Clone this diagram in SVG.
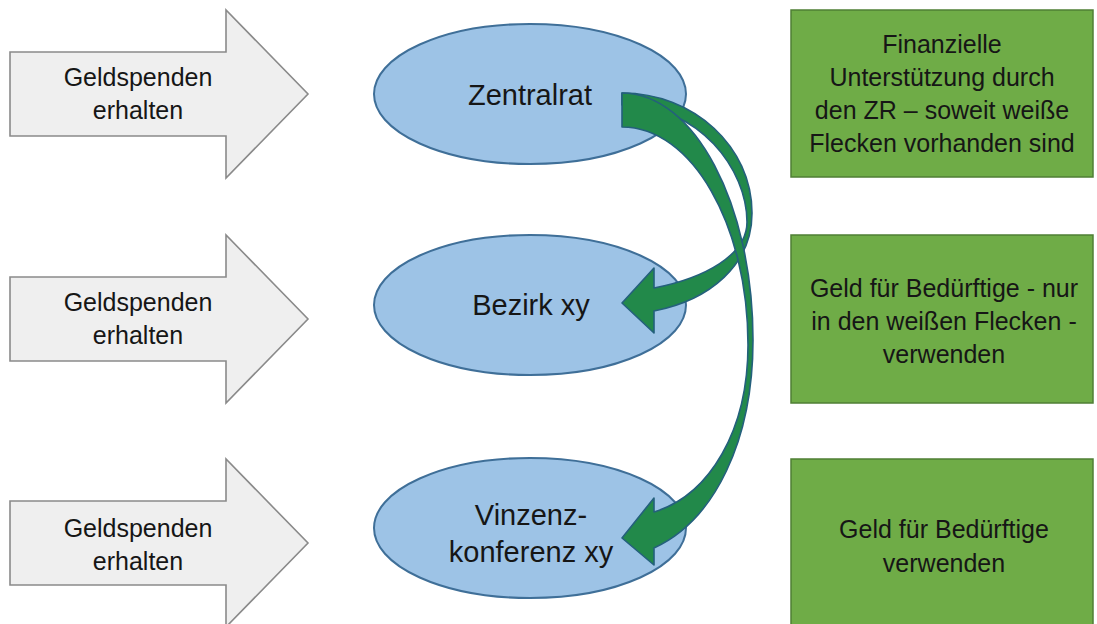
<svg xmlns="http://www.w3.org/2000/svg" width="1097" height="624" viewBox="0 0 1097 624">
<style>
.garrow{fill:#efefef;stroke:#8a8a8a;stroke-width:1.6}
.ell{fill:#9dc3e6;stroke:#3f6f98;stroke-width:2}
.box{fill:#6fac47;stroke:#4f7f34;stroke-width:1.5}
.curve{fill:#22894a;stroke:#24607c;stroke-width:1.6;stroke-linejoin:round}
text{font-family:"Liberation Sans",Arial,sans-serif;fill:#161616;text-anchor:middle}
.t1{font-size:25px}
.t2{font-size:29px}
</style>
<rect width="1097" height="624" fill="#ffffff"/>
<g id="spende1">
<polygon class="garrow" points="10,52 226,52 226,10 308,94 226,178 226,136 10,136"/>
<text class="t1" x="138" y="86">Geldspenden</text>
<text class="t1" x="138" y="119">erhalten</text>
</g>
<g id="spende2">
<polygon class="garrow" points="10,277 226,277 226,235 308,319 226,403 226,361 10,361"/>
<text class="t1" x="138" y="311">Geldspenden</text>
<text class="t1" x="138" y="344">erhalten</text>
</g>
<g id="spende3">
<polygon class="garrow" points="10,501 226,501 226,459 308,543 226,627 226,585 10,585"/>
<text class="t1" x="138" y="537">Geldspenden</text>
<text class="t1" x="138" y="570">erhalten</text>
</g>
<g id="zentralrat">
<ellipse class="ell" cx="530" cy="94" rx="156" ry="70"/>
<text class="t2" x="530" y="105">Zentralrat</text>
</g>
<g id="bezirk">
<ellipse class="ell" cx="530" cy="305" rx="156" ry="70"/>
<text class="t2" x="531" y="315">Bezirk xy</text>
</g>
<g id="vinzenz">
<ellipse class="ell" cx="530" cy="528" rx="156" ry="70"/>
<text class="t2" x="531" y="525">Vinzenz-</text>
<text class="t2" x="531" y="562">konferenz xy</text>
</g>
<g id="box1">
<rect class="box" x="791" y="10" width="302" height="167"/>
<text class="t1" x="942" y="53">Finanzielle</text>
<text class="t1" x="942" y="86">Unterstützung durch</text>
<text class="t1" x="942" y="119">den ZR – soweit weiße</text>
<text class="t1" x="942" y="152">Flecken vorhanden sind</text>
</g>
<g id="box2">
<rect class="box" x="791" y="235" width="302" height="168"/>
<text class="t1" x="944" y="297">Geld für Bedürftige - nur</text>
<text class="t1" x="944" y="330">in den weißen Flecken -</text>
<text class="t1" x="944" y="363">verwenden</text>
</g>
<g id="box3">
<rect class="box" x="791" y="459" width="302" height="170"/>
<text class="t1" x="944" y="538">Geld für Bedürftige</text>
<text class="t1" x="944" y="572">verwenden</text>
</g>
<g id="connectors">
<path class="curve" d="M622,93 C694,93 752,147 752,213 C752,265 710,300 654,311 L654,333 L622,303 L654,268 L654,288 C705,278 747,255 747,222 C747,170 700,105 622,105 Z"/>
<path class="curve" d="M622,93 C694,93 753,204 753,340 C753,440 715,520 654,548 L654,565 L622,538 L654,498 L654,512 C710,495 748,430 748,345 C748,225 692,127 622,127 Z"/>
</g>
</svg>
